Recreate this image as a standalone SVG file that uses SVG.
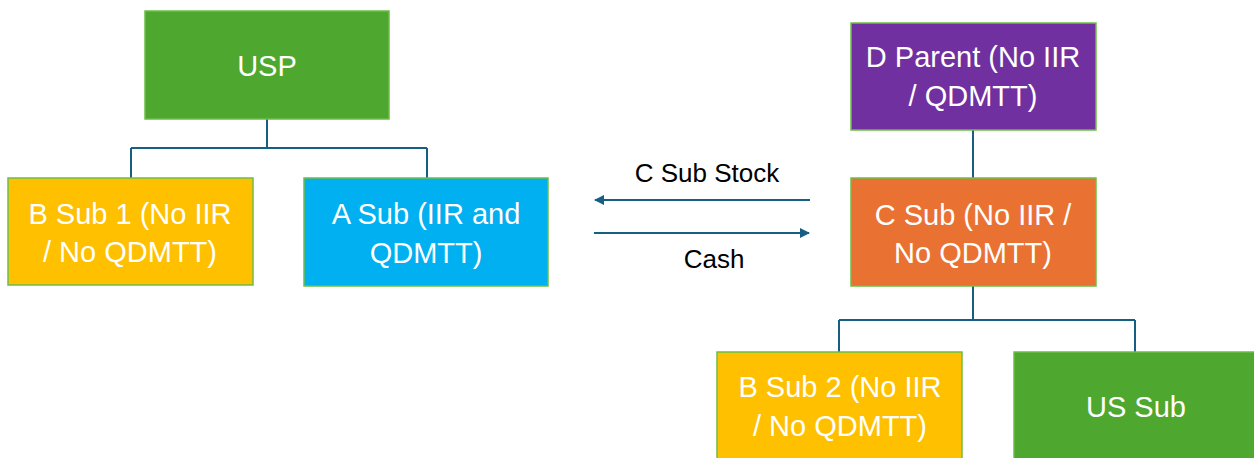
<svg xmlns="http://www.w3.org/2000/svg" width="1254" height="458" viewBox="0 0 1254 458">
<defs>
<style>
.box{stroke:#6DBE45;stroke-width:1.5}
.t{font-family:"Liberation Sans",Arial,sans-serif;font-size:29px;fill:#fff;text-anchor:middle}
.lbl{font-family:"Liberation Sans",Arial,sans-serif;font-size:26px;fill:#000;text-anchor:middle}
.c{fill:none;stroke:#156082;stroke-width:2}
</style>
<marker id="ah" viewBox="0 0 10 10" refX="9" refY="5" markerWidth="5" markerHeight="5" orient="auto-start-reverse">
<path d="M0,0 L10,5 L0,10 z" fill="#156082"/>
</marker>
</defs>
<rect width="1254" height="458" fill="#fff"/>
<g id="connectors">
<path class="c" d="M267,119 V148 M131,148 H427 M131,148 V178 M427,148 V178"/>
<path class="c" d="M973,130 V178"/>
<path class="c" d="M973,286 V320 M839,320 H1135 M839,320 V352 M1135,320 V352"/>
<line class="c" x1="810" y1="200" x2="595" y2="200" marker-end="url(#ah)"/>
<line class="c" x1="594" y1="233" x2="809" y2="233" marker-end="url(#ah)"/>
<text class="lbl" x="707" y="182">C Sub Stock</text>
<text class="lbl" x="714" y="268">Cash</text>
</g>
<g id="usp">
<rect class="box" x="145" y="11" width="244" height="108" fill="#4EA72E"/>
<text class="t" x="267" y="76">USP</text>
</g>
<g id="bsub1">
<rect class="box" x="8" y="178" width="245" height="107" fill="#FFC000"/>
<text class="t" x="130" y="224">B Sub 1 (No IIR</text>
<text class="t" x="130" y="262">/ No QDMTT)</text>
</g>
<g id="asub">
<rect class="box" x="304" y="178" width="244" height="108" fill="#00B0F0"/>
<text class="t" x="426" y="224">A Sub (IIR and</text>
<text class="t" x="426" y="263">QDMTT)</text>
</g>
<g id="dparent">
<rect class="box" x="851" y="23" width="245" height="107" fill="#7030A0"/>
<text class="t" x="973" y="67">D Parent (No IIR</text>
<text class="t" x="973" y="106">/ QDMTT)</text>
</g>
<g id="csub">
<rect class="box" x="851" y="178" width="245" height="108" fill="#E97132"/>
<text class="t" x="973" y="225">C Sub (No IIR /</text>
<text class="t" x="973" y="263">No QDMTT)</text>
</g>
<g id="bsub2">
<rect class="box" x="717" y="352" width="245" height="110" fill="#FFC000"/>
<text class="t" x="840" y="397">B Sub 2 (No IIR</text>
<text class="t" x="840" y="436">/ No QDMTT)</text>
</g>
<g id="ussub">
<rect class="box" x="1014" y="352" width="245" height="110" fill="#4EA72E"/>
<text class="t" x="1136" y="417">US Sub</text>
</g>
</svg>
